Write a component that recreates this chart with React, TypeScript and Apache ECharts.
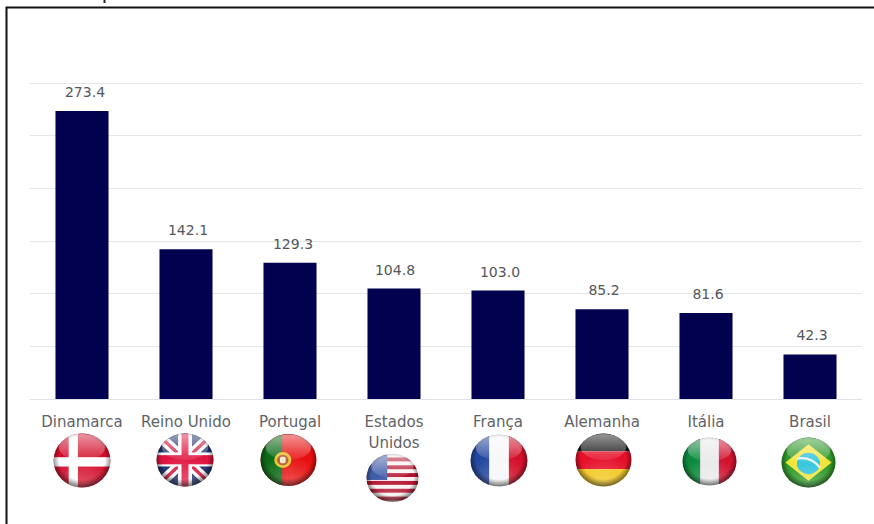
import React, { useEffect, useRef } from "react";
import * as echarts from "echarts";

const categories = ["Dinamarca", "Reino Unido", "Portugal", "Estados\nUnidos", "França", "Alemanha", "Itália", "Brasil"];
const values = [273.4, 142.1, 129.3, 104.8, 103.0, 85.2, 81.6, 42.3];
const valueLabels = ["273.4", "142.1", "129.3", "104.8", "103.0", "85.2", "81.6", "42.3"];
const flagCodes = ["dk", "gb", "pt", "us", "fr", "de", "it", "br"];

// Flag artwork in a 100x100 box, clipped to a disc and finished with a glass effect.
const flagArt: Record<string, string> = {
  dk: `<rect width="100" height="100" fill="#d40f2c"/><rect x="27" width="16" height="100" fill="#fff"/><rect y="44" width="100" height="17" fill="#fff"/>`,
  gb: `<rect width="100" height="100" fill="#1c2f6e"/>
    <path d="M0 0L100 100M100 0L0 100" stroke="#fff" stroke-width="18"/>
    <path d="M0 0L100 100M100 0L0 100" stroke="#d8163c" stroke-width="6"/>
    <rect x="38" width="24" height="100" fill="#fff"/><rect y="36" width="100" height="26" fill="#fff"/>
    <rect x="44" width="12" height="100" fill="#e0153f"/><rect y="41" width="100" height="17" fill="#e0153f"/>`,
  pt: `<rect width="100" height="100" fill="#e80f10"/><rect width="39" height="100" fill="#0c6a16"/>
    <circle cx="40" cy="50" r="15" fill="#e9c22a"/><circle cx="40" cy="50" r="10" fill="#b5572d"/><rect x="35" y="44" width="10" height="12" rx="3" fill="#f1e8cf"/>`,
  us: `<rect width="100" height="100" fill="#f8f1f1"/>
    <rect y="8" width="100" height="8" fill="#b3122e"/><rect y="24" width="100" height="8" fill="#b3122e"/><rect y="40" width="100" height="8" fill="#b3122e"/><rect y="56" width="100" height="8" fill="#b3122e"/><rect y="72" width="100" height="8" fill="#b3122e"/><rect y="88" width="100" height="8" fill="#b3122e"/>
    <rect width="40" height="54" fill="#3f5ca8"/>`,
  fr: `<rect width="100" height="100" fill="#f7f7f9"/><rect width="33" height="100" fill="#23479f"/><rect x="67" width="33" height="100" fill="#d3102b"/>`,
  de: `<rect width="100" height="34" fill="#151515"/><rect y="34" width="100" height="33" fill="#e6102a"/><rect y="67" width="100" height="33" fill="#f2c51a"/>`,
  it: `<rect width="100" height="100" fill="#e8e8e8"/><rect width="33" height="100" fill="#0a8a3c"/><rect x="67" width="33" height="100" fill="#d2122e"/>`,
  br: `<rect width="100" height="100" fill="#2f9a2a"/><polygon points="8,50 50,14 92,50 50,86" fill="#f4e43a"/>
    <circle cx="50" cy="52" r="21" fill="#2cc4dc"/><path d="M30 42Q55 38 71 60" stroke="#e8f6f0" stroke-width="4" fill="none"/>`,
};

const flagUri = (code: string) => {
  const svg = `<svg xmlns="http://www.w3.org/2000/svg" viewBox="0 0 100 100" preserveAspectRatio="none">
    <defs>
      <clipPath id="disc"><circle cx="50" cy="50" r="49"/></clipPath>
      <radialGradient id="rim" cx="50%" cy="46%" r="52%">
        <stop offset="0.76" stop-color="#000" stop-opacity="0"/>
        <stop offset="1" stop-color="#000" stop-opacity="0.5"/>
      </radialGradient>
      <linearGradient id="gloss" x1="0" y1="0" x2="0" y2="1">
        <stop offset="0" stop-color="#fff" stop-opacity="0.55"/>
        <stop offset="1" stop-color="#fff" stop-opacity="0.08"/>
      </linearGradient>
      <radialGradient id="glow" cx="50%" cy="100%" r="60%">
        <stop offset="0" stop-color="#fff" stop-opacity="0.3"/>
        <stop offset="1" stop-color="#fff" stop-opacity="0"/>
      </radialGradient>
    </defs>
    <g clip-path="url(#disc)">
      ${flagArt[code]}
      <rect width="100" height="100" fill="url(#glow)"/>
      <rect width="100" height="100" fill="url(#rim)"/>
      <ellipse cx="50" cy="26" rx="40" ry="24" fill="url(#gloss)"/>
    </g>
  </svg>`;
  return "data:image/svg+xml;charset=utf-8," + encodeURIComponent(svg);
};

// Where each flag sits relative to its category on the axis: dx, dy from the baseline, radii.
const flagPlacement = [
  [0, 61.5, 29, 27.5],
  [-1, 61, 29, 27],
  [-1.5, 61, 28.5, 26.5],
  [-1.5, 79, 26.5, 24.5],
  [1, 61.5, 29, 26.5],
  [1.5, 61, 28.5, 27],
  [3.5, 62.5, 27.5, 24.5],
  [-1.5, 63.5, 27.5, 25.5],
];

// Value labels sit slightly right of their bars.
const labelShift = [3, 2, 3, 1, 2, 2, 2, 2];

const textFont = "'DejaVu Sans', sans-serif";

export default function App() {
  const ref = useRef<HTMLDivElement>(null);

  useEffect(() => {
    const chart = echarts.init(ref.current!, undefined, { renderer: "svg" });
    chart.setOption({
      animation: false,
      backgroundColor: "#ffffff",
      grid: { left: 30, right: 12, top: 83, bottom: 125, containLabel: false },
      xAxis: {
        type: "category",
        data: categories,
        axisLine: { show: true, lineStyle: { color: "#dfe2e6", width: 1 } },
        axisTick: { show: false },
        axisLabel: {
          interval: 0,
          margin: 12,
          color: "#5f6368",
          fontFamily: textFont,
          fontSize: 15,
          lineHeight: 21,
          verticalAlign: "top",
        },
      },
      yAxis: {
        type: "value",
        min: 0,
        max: 300,
        interval: 50,
        axisLine: { show: false },
        axisTick: { show: false },
        axisLabel: { show: false },
        splitLine: { lineStyle: { color: "#e6e6e6", width: 1 } },
      },
      series: [
        {
          type: "bar",
          data: values.map((value, i) => ({ value, label: { offset: [labelShift[i], 0] } })),
          barWidth: "51%",
          itemStyle: { color: "#01014f" },
          label: {
            show: true,
            position: "top",
            distance: 12,
            color: "#53565a",
            fontFamily: textFont,
            fontSize: 14,
            formatter: (p: { dataIndex: number }) => valueLabels[p.dataIndex],
          },
        },
        {
          type: "custom",
          silent: true,
          data: flagCodes.map((_, i) => [i, 0]),
          renderItem: (_: unknown, api: any) => {
            const i = api.value(0) as number;
            const [cx, base] = api.coord([i, 0]);
            const [dx, dy, rx, ry] = flagPlacement[i];
            return {
              type: "image",
              style: {
                image: flagUri(flagCodes[i]),
                x: cx + dx - rx,
                y: base + dy - ry,
                width: rx * 2,
                height: ry * 2,
              },
            };
          },
        },
      ],
      graphic: [
        {
          type: "polyline",
          silent: true,
          shape: { points: [[6.5, 524], [6.5, 7.5], [874, 7.5]] },
          style: { stroke: "#111111", lineWidth: 2, fill: "none" },
        },
        {
          type: "line",
          silent: true,
          shape: { x1: 104.5, y1: 0, x2: 104.5, y2: 3 },
          style: { stroke: "#222222", lineWidth: 2 },
        },
      ],
    });
    return () => chart.dispose();
  }, []);

  return <div ref={ref} style={{ position: "absolute", left: 0, top: 0, width: 874, height: 524 }} />;
}
